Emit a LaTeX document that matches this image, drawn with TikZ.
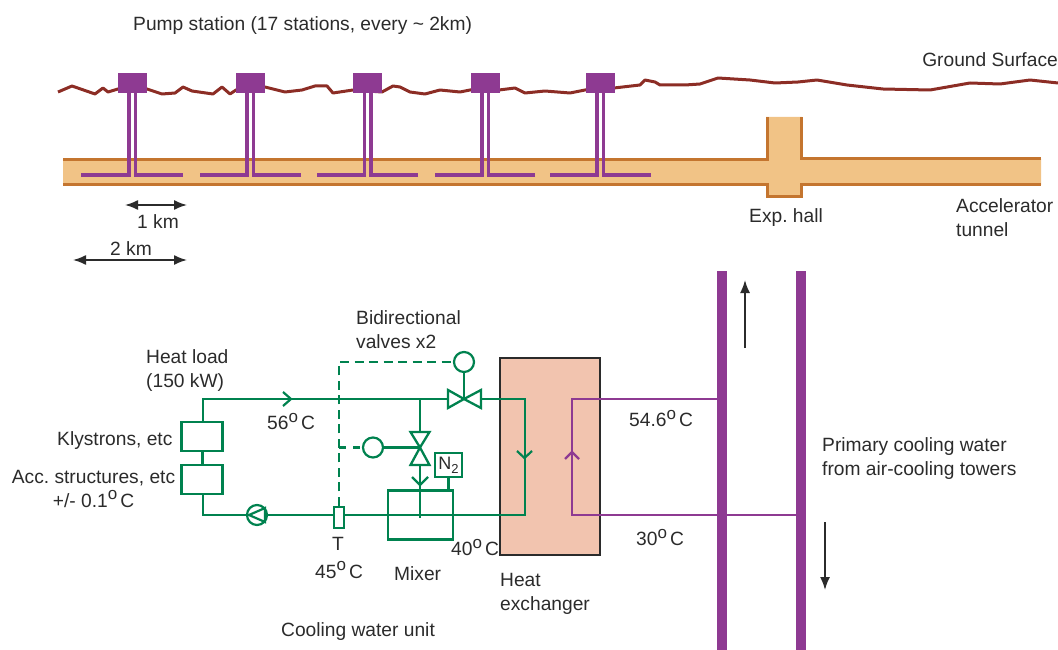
\documentclass[tikz,border=0pt]{standalone}
\usepackage{fontspec}
\setmainfont{Liberation Sans}
\usetikzlibrary{arrows.meta}
\frenchspacing
\definecolor{wgreen}{HTML}{00824F}
\definecolor{wpurple}{HTML}{8E3A92}
\definecolor{ground}{HTML}{8C2D25}
\definecolor{tfill}{HTML}{F1C386}
\definecolor{tline}{HTML}{C4752F}
\definecolor{hxfill}{HTML}{F2C4AF}
\definecolor{ink}{HTML}{2B2B2B}
\newcommand{\dg}{\raisebox{0.72ex}{\fontsize{17}{17}\selectfont o}\kern3pt}
\tikzset{
  lab/.style={text=ink,font=\fontsize{19.2}{23.5}\selectfont,inner sep=0pt,align=left,yshift=-1.5pt},
  gline/.style={draw=wgreen,line width=2.2pt},
  gbox/.style={draw=wgreen,line width=2.3pt,fill=white,inner sep=0pt,minimum width=41pt,minimum height=29pt},
  gcirc/.style={circle,draw=wgreen,line width=2.2pt,fill=white,inner sep=0pt,minimum size=20pt},
  pline/.style={draw=wpurple,line width=2.2pt},
  riser/.style={draw=wpurple,line width=3.2pt},
  station/.style={fill=wpurple,draw=none,inner sep=0pt,minimum width=29pt,minimum height=20pt},
  bar/.style={draw=none,fill=wpurple},
  dim/.style={draw=ink,line width=1.7pt,{Latex[length=13pt,width=10pt]}-{Latex[length=13pt,width=10pt]}},
  flow/.style={draw=ink,line width=1.7pt,-{Latex[length=13pt,width=10pt]}},
  valve/.style={draw=wgreen,line width=2.3pt,fill=white,line join=miter},
}
\begin{document}
\begin{tikzpicture}[x=1pt,y=-1pt]
\useasboundingbox (0,0) rectangle (1058,650);
% tunnel
\fill[tfill] (63,160) -- (766,160) -- (766,117) -- (802,117) -- (802,159) -- (1041,159) -- (1041,185) -- (802,185) -- (802,196) -- (766,196) -- (766,185) -- (63,185) -- cycle;
\draw[tline,line width=3pt] (63,160) -- (767,160) -- (767,117);
\draw[tline,line width=3pt] (801,117) -- (801,159) -- (1041,159);
\draw[tline,line width=3pt] (63,185) -- (767,185) -- (767,196) -- (801,196) -- (801,185) -- (1041,185);
% ground
\draw[ground,line width=3pt,line join=round] (58,92) -- (72,86) -- (95,94) -- (103,88) -- (108,92) -- (118,89) -- (147,89) -- (162,94) -- (175,93) -- (183,87) -- (192,91) -- (213,94) -- (222,87) -- (230,94) -- (236,90) -- (265,87) -- (285,92) -- (302,90) -- (315,86) -- (327,86) -- (333,93) -- (353,90) -- (382,92) -- (393,86) -- (400,87) -- (410,92) -- (425,94) -- (440,90) -- (460,92) -- (470,90) -- (499,90) -- (515,88) -- (525,93) -- (545,91) -- (570,93) -- (585,90) -- (614,88) -- (640,85) -- (645,80) -- (655,82) -- (660,85) -- (685,85) -- (700,84) -- (718,78) -- (750,80) -- (775,83) -- (798,82) -- (817,80) -- (847,85) -- (883,89) -- (930,90) -- (970,83) -- (1000,84) -- (1030,80) -- (1058,83);
% stations
\foreach \n/\xa/\xb/\l/\r in {a/129/135.5/81/183,b/247/253.5/200/301,c/364.5/371/317/418,d/482/488.5/435/535,e/597/603.5/550/651}{
  \node[station] (st\n) at ({(\xa+\xb)/2},83) {};
  \draw[riser,line join=miter] (\l,175) -- (\xa,175) -- (\xa,93);
  \draw[riser,line join=miter] (\r,175) -- (\xb,175) -- (\xb,93);
}
% dimension arrows
\coordinate (d1a) at (125,205); \coordinate (d1b) at (187,205);
\coordinate (d2a) at (73,260);  \coordinate (d2b) at (187,260);
\draw[dim] (d1a) -- (d1b);
\draw[dim] (d2a) -- (d2b);
% primary bars
\fill[bar] (717,271) rectangle (727,650);
\fill[bar] (796,271) rectangle (806,650);
\coordinate (up1) at (745,348); \coordinate (up2) at (745,280);
\coordinate (dn1) at (825,522); \coordinate (dn2) at (825,590);
\draw[flow] (up1) -- (up2);
\draw[flow] (dn1) -- (dn2);
% heat exchanger
\node[draw=ink,line width=2.4pt,fill=hxfill,inner sep=0pt,minimum width=100.5pt,minimum height=197pt] (hx) at (550,456.5) {};
% purple loop
\coordinate (pa) at (722,399); \coordinate (pb) at (572,399); \coordinate (pc) at (572,515); \coordinate (pd) at (801,515);
\draw[pline] (pa) -- (pb) -- (pc) -- (pd);
\draw[pline] (565,459) -- (572,452) -- (579,459);
% green loop
\coordinate (g1) at (203,399); \coordinate (g2) at (525,399); \coordinate (g3) at (525,515); \coordinate (g4) at (203,515);
\draw[gline] (g1) -- (g2) -- (g3) -- (g4) -- cycle;
\draw[gline] (283,392) -- (291,399) -- (283,406);
\draw[gline] (517,451) -- (524.5,458) -- (532,451);
% load boxes
\node[gbox] (kly) at (202,436.5) {};
\node[gbox] (acc) at (202,479.5) {};
\draw[gline] (kly) -- (acc);
% pump
\node[gcirc] (pump) at (257,515) {};
\draw[gline,line join=miter] (265,508) -- (249,515) -- (265,522) -- cycle;
% mixer
\node[draw=wgreen,line width=2.3pt,fill=none,inner sep=0pt,minimum width=65pt,minimum height=49pt] (mixer) at (420.5,515) {};
\coordinate (tee) at (420,399); \coordinate (mixin) at (420,518);
\draw[gline] (tee) -- (mixin);
\draw[gline] (412,477) -- (420,485) -- (428,477);
% N2
\node[draw=wgreen,line width=2.3pt,fill=white,inner sep=0pt,minimum width=27pt,minimum height=24pt,text=ink,font=\fontsize{18}{18}\selectfont] (n2) at (448.5,465) {N\raisebox{-0.4ex}{\fontsize{13}{13}\selectfont 2}};
\draw[gline] (n2.south) -- (n2.south |- mixer.north);
% T sensor
\node[draw=wgreen,line width=2.3pt,fill=white,inner sep=0pt,minimum width=10pt,minimum height=21pt] (tb) at (339,517.5) {};
% valves
\node[gcirc] (c1) at (464,362) {};
\node[gcirc] (c2) at (373,447.5) {};
\coordinate (v1) at (464,399); \coordinate (v2) at (420,447.5);
\draw[gline] (c1) -- (v1);
\draw[gline] (c2) -- (v2);
\draw[valve] (v1) -- (448,390) -- (448,408) -- cycle;
\draw[valve] (v1) -- (481,390) -- (481,408) -- cycle;
\draw[valve] (v2) -- (410.5,432) -- (429.5,432) -- cycle;
\draw[valve] (v2) -- (410.5,465) -- (429.5,465) -- cycle;
% dashed control lines
\coordinate (dk) at (339,362); \coordinate (dj) at (339,447.5);
\draw[gline,dash pattern=on 9pt off 5.5pt] (tb.north) -- (dk) -- (c1.west);
\draw[gline,dash pattern=on 7pt off 7pt] (dj) -- (c2.west);
% labels
\node[lab,anchor=west] (t1) at (133,24) {Pump station (17 stations, every \textasciitilde{} 2km)};
\node[lab,anchor=east] (t2) at (1058,58) {Ground Surface};
\node[lab,anchor=west] (t3) at (137,220) {1 km};
\node[lab,anchor=west] (t4) at (110,247) {2 km};
\node[lab,anchor=west] (t5) at (749,216) {Exp. hall};
\node[lab,anchor=west] (t6) at (956,216) {Accelerator\\tunnel};
\node[lab,anchor=west] (t7) at (356,328) {Bidirectional\\valves x2};
\node[lab,anchor=west] (t8) at (146,369) {Heat load\\(150 kW)};
\node[lab,anchor=west] (t9) at (267,420) {56\dg C};
\node[lab,anchor=west] (t10) at (629,417) {54.6\dg C};
\node[lab,anchor=west] (t11) at (57,439) {Klystrons, etc};
\node[lab,anchor=center,align=center] (t12) at (93.5,487.5) {Acc. structures, etc\\+/- 0.1\dg C};
\node[lab,anchor=center] (t13) at (338,542) {T};
\node[lab,anchor=west] (t14) at (315,568.5) {45\dg C};
\node[lab,anchor=west] (t15) at (394,572) {Mixer};
\node[lab,anchor=west] (t16) at (451,546) {40\dg C};
\node[lab,anchor=west] (t17) at (636,536) {30\dg C};
\node[lab,anchor=west] (t18) at (500,592.5) {Heat\\exchanger};
\node[lab,anchor=west] (t19) at (281,630) {Cooling water unit};
\node[lab,anchor=west] (t20) at (822,457) {Primary cooling water\\from air-cooling towers};
\end{tikzpicture}
\end{document}
